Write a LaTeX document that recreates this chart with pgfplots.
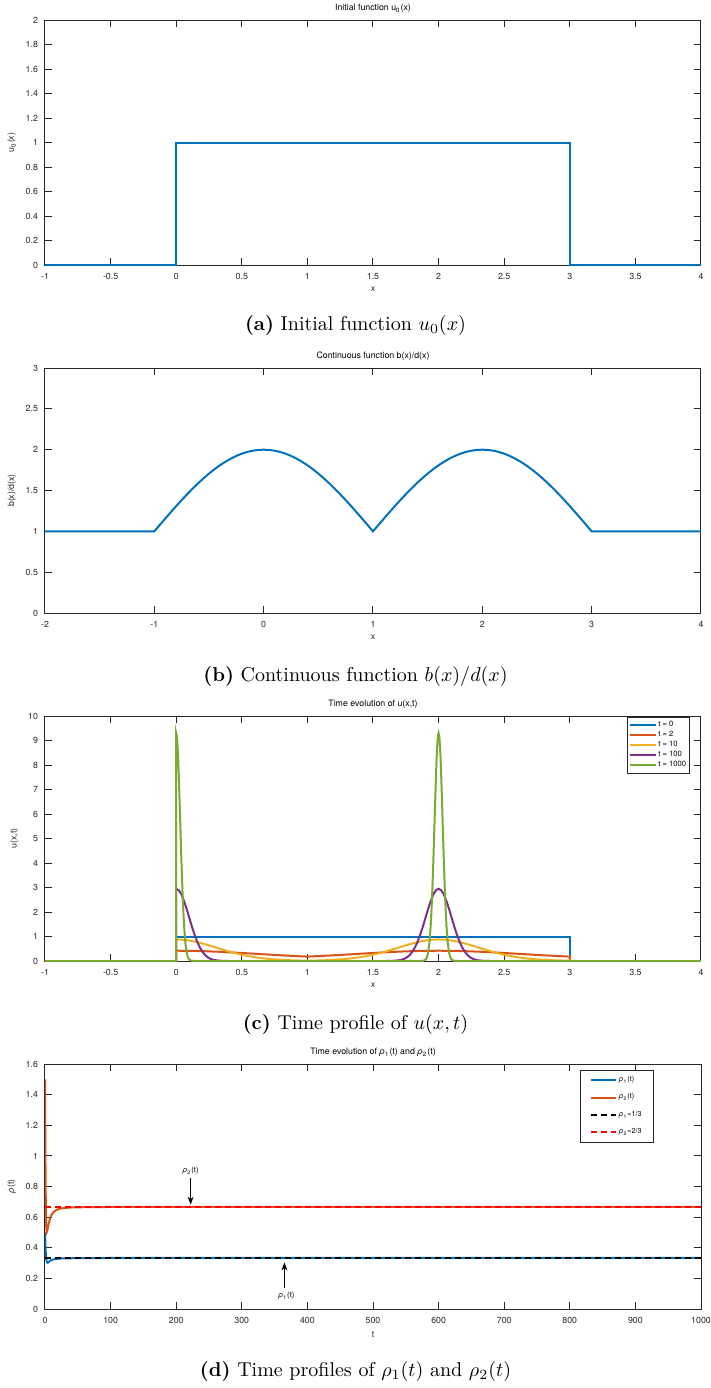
\documentclass[border=0pt]{standalone}
\usepackage{fontspec}
\newfontfamily\hv{TeX Gyre Heros}
\usepackage{pgfplots}
\pgfplotsset{compat=1.18}
\usetikzlibrary{arrows.meta}
\definecolor{axgray}{RGB}{38,38,38}
\definecolor{mblue}{RGB}{0,114,189}
\definecolor{morange}{RGB}{217,83,25}
\definecolor{myellow}{RGB}{237,177,32}
\definecolor{mpurple}{RGB}{126,47,142}
\definecolor{mgreen}{RGB}{119,172,48}
\newcommand{\tf}{\hv\fontsize{4.4}{5.2}\selectfont}
\newcommand{\rh}{{\itshape ρ}}
\pgfplotsset{
  mstyle/.style={
    width=328pt, height=122.5pt, scale only axis,
    anchor=south west,
    axis line style={draw=axgray, line width=0.5pt},
    every tick/.append style={draw=axgray, line width=0.5pt},
    major tick length=3.5pt,
    tick label style={font=\tf, text=axgray},
    xticklabel style={yshift=-0.6pt},
    yticklabel style={xshift=0pt},
    /pgf/number format/assume math mode=true,
    /pgf/number format/1000 sep={},
    scaled ticks=false,
    label style={font=\tf, text=axgray},
    xlabel style={yshift=3pt},
    ylabel style={yshift=-2pt},
    title style={font=\tf, text=black, yshift=-5.6pt},
    legend cell align=left,
  }
}
\begin{document}
\begin{tikzpicture}
\useasboundingbox (0pt,0pt) rectangle (355.5pt,-694pt);

% ---------------- (a)
\begin{axis}[mstyle, at={(22.5pt,-132.5pt)},
  xmin=-1, xmax=4, ymin=0, ymax=2,
  xtick={-1,-0.5,...,4}, ytick={0,0.2,...,2},
  title={Initial function u\textsubscript{0}(x)},
  xlabel={x}, ylabel={u\textsubscript{0}(x)}]
\addplot[mblue, line width=1pt] coordinates {(-1,0) (0,0) (0,1) (3,1) (3,0) (4,0)};
\end{axis}
\node[font=\fontsize{10}{12}\selectfont] at (177.75pt,-162.5pt) {\textbf{(a)} Initial function $u_0(x)$};

% ---------------- (b)
\begin{axis}[mstyle, at={(22.5pt,-306.5pt)},
  xmin=-2, xmax=4, ymin=0, ymax=3,
  xtick={-2,-1,...,4}, ytick={0,0.5,...,3},
  title={Continuous function b(x)/d(x)},
  xlabel={x}, ylabel={b(x)/d(x)}]
\addplot[mblue, line width=1pt] coordinates {
(-2,1) (-1,1) (-0.95,1.0785) (-0.9,1.1564) (-0.85,1.2334) (-0.8,1.3090) (-0.75,1.3827)
(-0.7,1.4540) (-0.65,1.5225) (-0.6,1.5878) (-0.55,1.6494) (-0.5,1.7071) (-0.45,1.7604)
(-0.4,1.8090) (-0.35,1.8526) (-0.3,1.8910) (-0.25,1.9239) (-0.2,1.9511) (-0.15,1.9724)
(-0.1,1.9877) (-0.05,1.9969) (0,2) (0.05,1.9969) (0.1,1.9877) (0.15,1.9724) (0.2,1.9511)
(0.25,1.9239) (0.3,1.8910) (0.35,1.8526) (0.4,1.8090) (0.45,1.7604) (0.5,1.7071)
(0.55,1.6494) (0.6,1.5878) (0.65,1.5225) (0.7,1.4540) (0.75,1.3827) (0.8,1.3090)
(0.85,1.2334) (0.9,1.1564) (0.95,1.0785) (1,1)
(1.05,1.0785) (1.1,1.1564) (1.15,1.2334) (1.2,1.3090) (1.25,1.3827)
(1.3,1.4540) (1.35,1.5225) (1.4,1.5878) (1.45,1.6494) (1.5,1.7071) (1.55,1.7604)
(1.6,1.8090) (1.65,1.8526) (1.7,1.8910) (1.75,1.9239) (1.8,1.9511) (1.85,1.9724)
(1.9,1.9877) (1.95,1.9969) (2,2) (2.05,1.9969) (2.1,1.9877) (2.15,1.9724) (2.2,1.9511)
(2.25,1.9239) (2.3,1.8910) (2.35,1.8526) (2.4,1.8090) (2.45,1.7604) (2.5,1.7071)
(2.55,1.6494) (2.6,1.5878) (2.65,1.5225) (2.7,1.4540) (2.75,1.3827) (2.8,1.3090)
(2.85,1.2334) (2.9,1.1564) (2.95,1.0785) (3,1) (4,1)};
\end{axis}
\node[font=\fontsize{10}{12}\selectfont] at (177.75pt,-338pt) {\textbf{(b)} Continuous function $b(x)/d(x)$};

% ---------------- (c)
\begin{axis}[mstyle, at={(22.5pt,-480.5pt)},
  xmin=-1, xmax=4, ymin=0, ymax=10,
  xtick={-1,-0.5,...,4}, ytick={0,1,...,10},
  title={Time evolution of u(x,t)},
  xlabel={x}, ylabel={u(x,t)},
  legend style={at={(0.983,0.998)}, anchor=north east, font=\hv\fontsize{3.8}{4.5}\selectfont,
    draw=axgray, line width=0.4pt, inner xsep=0.8pt, inner ysep=1.1pt, row sep=-1pt,
    nodes={inner sep=0.9pt}},
  legend image code/.code={\draw[#1, line width=1pt] (0pt,0pt) -- (13pt,0pt);}]
\addplot[mblue, line width=1pt] coordinates {(-1,0) (0,0) (0,1) (3,1) (3,0) (4,0)};
\addlegendentry{t = 0}
\addplot[morange, line width=1pt] coordinates {
(-1,0) (0,0) (0,0.42) (0.1,0.4156) (0.2,0.4029) (0.3,0.3830) (0.4,0.3572) (0.5,0.3277)
(0.6,0.2962) (0.7,0.2644) (0.8,0.2339) (0.9,0.2055) (1,0.18)
(1.1,0.2055) (1.2,0.2339) (1.3,0.2644) (1.4,0.2962) (1.5,0.3277) (1.6,0.3572) (1.7,0.3830)
(1.8,0.4029) (1.9,0.4156) (2,0.42) (2.1,0.4156) (2.2,0.4029) (2.3,0.3830) (2.4,0.3572)
(2.5,0.3277) (2.6,0.2962) (2.7,0.2644) (2.8,0.2339) (2.9,0.2055) (3,0.18) (3,0) (4,0)};
\addlegendentry{t = 2}
\addplot[myellow, line width=1pt] coordinates {
(-1,0) (0,0) (0,0.88) (0.05,0.8687) (0.1,0.8356) (0.15,0.7836) (0.2,0.7165) (0.25,0.6392)
(0.3,0.5568) (0.35,0.4739) (0.4,0.3946) (0.45,0.3217) (0.5,0.2572) (0.55,0.2019) (0.6,0.1558)
(0.65,0.1184) (0.7,0.0888) (0.75,0.0658) (0.8,0.0483) (0.85,0.0352) (0.9,0.0254) (0.95,0.0183)
(1,0.0132) (1.05,0.0183) (1.1,0.0254) (1.15,0.0352) (1.2,0.0483) (1.25,0.0658) (1.3,0.0888)
(1.35,0.1184) (1.4,0.1558) (1.45,0.2019) (1.5,0.2572) (1.55,0.3217) (1.6,0.3946) (1.65,0.4739)
(1.7,0.5568) (1.75,0.6392) (1.8,0.7165) (1.85,0.7836) (1.9,0.8356) (1.95,0.8687) (2,0.88)
(2.05,0.8687) (2.1,0.8356) (2.15,0.7836) (2.2,0.7165) (2.25,0.6392) (2.3,0.5568) (2.35,0.4739)
(2.4,0.3946) (2.45,0.3217) (2.5,0.2572) (2.55,0.2019) (2.6,0.1558) (2.65,0.1184) (2.7,0.0888)
(2.75,0.0658) (2.8,0.0483) (2.85,0.0352) (2.9,0.0254) (2.95,0.0183) (3,0.0132) (3,0) (4,0)};
\addlegendentry{t = 10}
\addplot[mpurple, line width=1pt] coordinates {
(-1,0) (0,0) (0,2.95) (0.02,2.889) (0.04,2.715) (0.06,2.448) (0.08,2.118) (0.10,1.759)
(0.12,1.402) (0.14,1.073) (0.16,0.788) (0.18,0.557) (0.20,0.378) (0.22,0.246) (0.24,0.154)
(0.26,0.093) (0.28,0.054) (0.30,0.030) (0.35,0.006) (0.40,0) (1.6,0) (1.65,0.006) (1.70,0.030)
(1.72,0.054) (1.74,0.093) (1.76,0.154) (1.78,0.246) (1.80,0.378) (1.82,0.557) (1.84,0.788)
(1.86,1.073) (1.88,1.402) (1.90,1.759) (1.92,2.118) (1.94,2.448) (1.96,2.715) (1.98,2.889)
(2,2.95) (2.02,2.889) (2.04,2.715) (2.06,2.448) (2.08,2.118) (2.10,1.759) (2.12,1.402)
(2.14,1.073) (2.16,0.788) (2.18,0.557) (2.20,0.378) (2.22,0.246) (2.24,0.154) (2.26,0.093)
(2.28,0.054) (2.30,0.030) (2.35,0.006) (2.40,0) (4,0)};
\addlegendentry{t = 100}
\addplot[mgreen, line width=1pt] coordinates {
(-1,0) (0,0) (0,9.3) (0.005,9.180) (0.01,8.830) (0.015,8.277) (0.02,7.559) (0.03,5.834)
(0.04,4.060) (0.05,2.548) (0.06,1.442) (0.07,0.735) (0.08,0.339) (0.09,0.141) (0.10,0.053)
(0.12,0.006) (0.15,0) (1.85,0) (1.88,0.006) (1.90,0.053) (1.91,0.141) (1.92,0.339)
(1.93,0.735) (1.94,1.442) (1.95,2.548) (1.96,4.060) (1.97,5.834) (1.98,7.559) (1.985,8.277)
(1.99,8.830) (1.995,9.180) (2,9.3) (2.005,9.180) (2.01,8.830) (2.015,8.277) (2.02,7.559)
(2.03,5.834) (2.04,4.060) (2.05,2.548) (2.06,1.442) (2.07,0.735) (2.08,0.339) (2.09,0.141)
(2.10,0.053) (2.12,0.006) (2.15,0) (4,0)};
\addlegendentry{t = 1000}
\end{axis}
\node[font=\fontsize{10}{12}\selectfont] at (177.75pt,-512pt) {\textbf{(c)} Time profile of $u(x,t)$};

% ---------------- (d)
\begin{axis}[mstyle, at={(22.5pt,-654.5pt)},
  xmin=0, xmax=1000, ymin=0, ymax=1.6,
  xtick={0,100,...,1000}, ytick={0,0.2,...,1.6},
  title={Time evolution of \rh\textsubscript{1}(t) and \rh\textsubscript{2}(t)},
  xlabel={t}, ylabel={\rh(t)},
  legend style={at={(0.928,0.975)}, anchor=north east, font=\hv\fontsize{3.6}{4.3}\selectfont,
    draw=axgray, line width=0.4pt, inner xsep=5pt, inner ysep=2pt, row sep=2.7pt,
    nodes={inner sep=0.9pt}},
  legend image code/.code={\draw[#1, line width=1pt] (0pt,0pt) -- (12.5pt,0pt);}]
\addplot[mblue, line width=1pt] coordinates {
(0,0.5) (1,0.38) (2,0.32) (3,0.305) (4,0.302) (5,0.304) (7,0.312) (10,0.320) (15,0.326)
(20,0.329) (30,0.331) (50,0.332) (100,0.3333) (1000,0.3333)};
\addlegendentry{\rh\textsubscript{1}(t)}
\addplot[morange, line width=1pt] coordinates {
(0,1.5) (0.5,1.1) (1,0.8) (1.5,0.6) (2,0.52) (2.5,0.50) (3,0.505) (4,0.52) (5,0.545)
(6,0.565) (8,0.595) (10,0.615) (13,0.633) (16,0.643) (20,0.652) (25,0.657) (30,0.66)
(40,0.663) (60,0.665) (100,0.6665) (1000,0.6667)};
\addlegendentry{\rh\textsubscript{2}(t)}
\addplot[black, line width=1pt, dash pattern=on 3pt off 2pt] coordinates {(0,0.3333) (1000,0.3333)};
\addlegendentry{\rh\textsubscript{1}=1/3}
\addplot[red, line width=1pt, dash pattern=on 3pt off 2pt] coordinates {(0,0.6667) (1000,0.6667)};
\addlegendentry{\rh\textsubscript{2}=2/3}
\draw[-{Stealth[length=4pt,width=3pt]}, line width=0.4pt] (axis cs:222,0.856) -- (axis cs:222,0.682);
\node[font=\hv\fontsize{3.8}{4.5}\selectfont] at (axis cs:222,0.905) {\rh\textsubscript{2}(t)};
\draw[-{Stealth[length=4pt,width=3pt]}, line width=0.4pt] (axis cs:365,0.136) -- (axis cs:365,0.304);
\node[font=\hv\fontsize{3.8}{4.5}\selectfont] at (axis cs:368,0.09) {\rh\textsubscript{1}(t)};
\end{axis}
\node[font=\fontsize{10}{12}\selectfont] at (177.75pt,-685.5pt) {\textbf{(d)} Time profiles of $\rho_1(t)$ and $\rho_2(t)$};
\end{tikzpicture}
\end{document}
